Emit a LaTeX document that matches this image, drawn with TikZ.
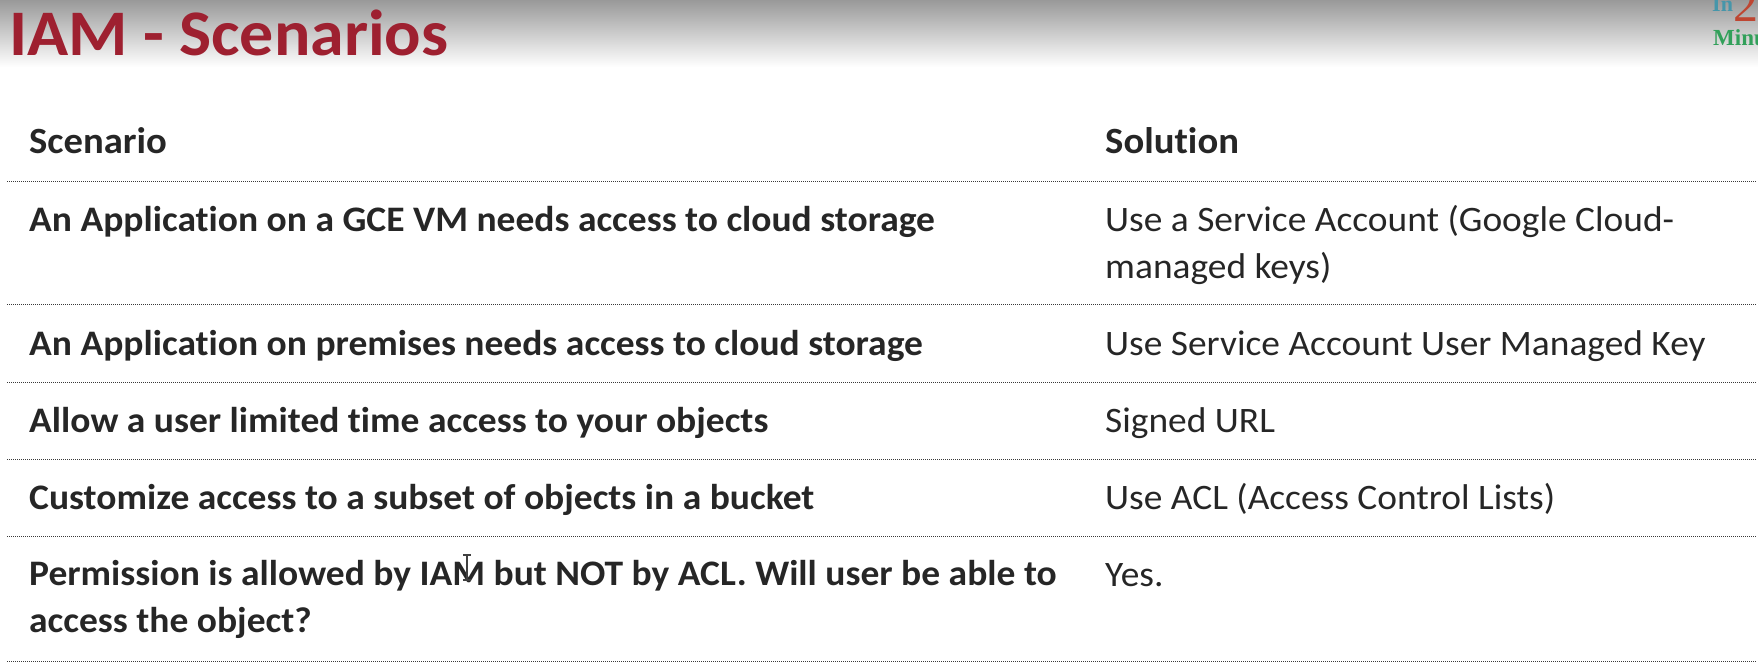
\documentclass[tikz,border=0pt]{standalone}
\usepackage{fontspec}
\setmainfont[FakeStretch=1.045, Ligatures=NoCommon]{Carlito}
\newfontfamily\logofont{Liberation Serif}
\usetikzlibrary{positioning}
\definecolor{titlered}{RGB}{158,32,48}
\definecolor{bodyink}{RGB}{38,38,38}
\definecolor{logoteal}{RGB}{70,150,170}
\definecolor{logored}{RGB}{190,70,50}
\definecolor{logogreen}{RGB}{50,160,90}
\newcommand{\rowstrut}{\rule{0pt}{26pt}}
\tikzset{
  titletext/.style={anchor=base west, inner sep=0pt, text=titlered, font=\fontsize{65}{70}\selectfont\bfseries},
  headtext/.style={anchor=north west, inner sep=0pt, text=bodyink, font=\fontsize{37}{47}\selectfont\bfseries, execute at begin node=\rowstrut},
  scenariotext/.style={anchor=north west, inner sep=0pt, align=left, text=bodyink, font=\fontsize{35.9}{47}\selectfont\bfseries, execute at begin node=\rowstrut},
  solutiontext/.style={anchor=north west, inner sep=0pt, align=left, text=bodyink, font=\fontsize{35.8}{47}\selectfont, execute at begin node=\rowstrut},
  rowline/.style={gray!45!black, line width=1pt, dash pattern=on 1pt off 1pt},
  logotext/.style={anchor=base west, inner sep=0pt}
}
\begin{document}
\begin{tikzpicture}[x=1pt, y=1pt]
  \useasboundingbox (0,0) rectangle (1758,669);
  \clip (0,0) rectangle (1758,669);

  % Grey band behind the title
  \shade[top color=black!40, bottom color=white] (0,669) rectangle (1758,602);

  % Title and logo
  \node[titletext] (title) at (9,613) {IAM - Scenarios};
  \node[logotext, text=logoteal, font=\logofont\fontsize{22}{22}\selectfont\bfseries] (logoin) at (1712,657) {In};
  \node[logotext, text=logored, font=\logofont\fontsize{50}{50}\selectfont] (logotwo) at (1733,647) {2};
  \node[logotext, text=logogreen, font=\logofont\fontsize{23}{23}\selectfont\bfseries] (logomin) at (1713,623) {Minutes};

  % Ends of the dotted rules
  \coordinate (l0) at (7,487);
  \coordinate (r0) at (1756,487);
  \coordinate (l1) at (7,364);
  \coordinate (r1) at (1756,364);
  \coordinate (l2) at (7,286);
  \coordinate (r2) at (1756,286);
  \coordinate (l3) at (7,209);
  \coordinate (r3) at (1756,209);
  \coordinate (l4) at (7,132);
  \coordinate (r4) at (1756,132);
  \coordinate (l5) at (7,8);
  \coordinate (r5) at (1756,8);
  \foreach \n in {0,...,5}
    \draw[rowline] (l\n) -- (r\n);

  % Left column
  \node[headtext] (head_a) at (29,542) {Scenario};
  \node[scenariotext] (scen_a) at (29,464) {An Application on a GCE VM needs access to cloud storage};
  \node[scenariotext] (scen_b) at (29,340) {An Application on premises needs access to cloud storage};
  \node[scenariotext] (scen_c) at (29,263) {Allow a user limited time access to your objects};
  \node[scenariotext] (scen_d) at (29,186) {Customize access to a subset of objects in a bucket};
  \node[scenariotext] (scen_e) at (29,109) {Permission is allowed by IAM but NOT by ACL. Will user be able to\\access the object?};

  % Right column
  \node[headtext] (head_b) at (1105,542) {Solution};
  \node[solutiontext] (sol_a) at (1105,464) {Use a Service Account (Google Cloud-\\managed keys)};
  \node[solutiontext] (sol_b) at (1105,340) {Use Service Account User Managed Key};
  \node[solutiontext] (sol_c) at (1105,263) {Signed URL};
  \node[solutiontext] (sol_d) at (1105,186) {Use ACL (Access Control Lists)};
  \node[solutiontext] (sol_e) at (1105,109) {Yes.};

  % Mouse cursor
  \draw[black!75, line width=1.3pt] (463,114) -- (471,114) (467,114) -- (467,89) (463,89) -- (471,89);
\end{tikzpicture}
\end{document}
